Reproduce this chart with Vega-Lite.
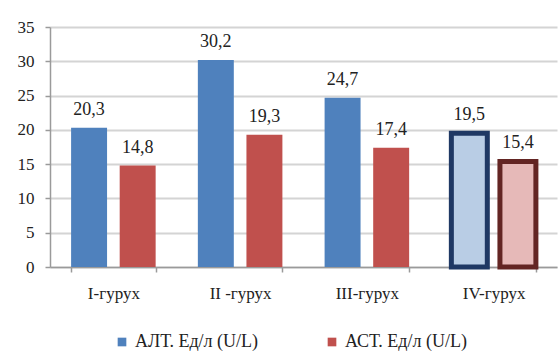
{
  "$schema": "https://vega.github.io/schema/vega-lite/v6.json",
  "autosize": "none",
  "width": 507,
  "height": 240,
  "padding": {"left": 50, "top": 27, "right": 2, "bottom": 86},
  "background": "white",
  "data": {
    "values": [
      {"group": "I-гурух", "series": "АЛТ. Ед/л (U/L)", "value": 20.3},
      {"group": "I-гурух", "series": "АСТ. Ед/л (U/L)", "value": 14.8},
      {"group": "II -гурух", "series": "АЛТ. Ед/л (U/L)", "value": 30.2},
      {"group": "II -гурух", "series": "АСТ. Ед/л (U/L)", "value": 19.3},
      {"group": "III-гурух", "series": "АЛТ. Ед/л (U/L)", "value": 24.7},
      {"group": "III-гурух", "series": "АСТ. Ед/л (U/L)", "value": 17.4},
      {"group": "IV-гурух", "series": "АЛТ. Ед/л (U/L)", "value": 19.5},
      {"group": "IV-гурух", "series": "АСТ. Ед/л (U/L)", "value": 15.4}
    ]
  },
  "encoding": {
    "x": {
      "field": "group",
      "type": "nominal",
      "sort": null,
      "scale": {"paddingInner": 0.333, "paddingOuter": 0.1665},
      "axis": {
        "title": null,
        "labelAngle": 0,
        "tickBand": "extent",
        "tickSize": 5,
        "tickColor": "#9a9a9a",
        "domainColor": "#9a9a9a",
        "labelPadding": 13,
        "labelFont": "Liberation Serif, DejaVu Serif, serif",
        "labelFontSize": 17,
        "labelColor": "#222222",
        "grid": false
      }
    },
    "xOffset": {
      "field": "series",
      "type": "nominal",
      "scale": {"paddingInner": 0.26, "paddingOuter": 0}
    },
    "y": {
      "field": "value",
      "type": "quantitative",
      "scale": {"domain": [0, 35], "nice": false},
      "axis": {
        "title": null,
        "values": [0, 5, 10, 15, 20, 25, 30, 35],
        "tickSize": 5,
        "tickColor": "#9a9a9a",
        "domainColor": "#9a9a9a",
        "gridColor": "#d4d4d4",
        "gridWidth": 2,
        "labelPadding": 11,
        "labelFont": "Liberation Serif, DejaVu Serif, serif",
        "labelFontSize": 17,
        "labelColor": "#222222"
      }
    }
  },
  "layer": [
    {
      "mark": {"type": "bar"},
      "encoding": {
        "color": {
          "field": "series",
          "type": "nominal",
          "scale": {"range": ["#4f81bd", "#c0504d"]},
          "legend": {
            "title": null,
            "orient": "none",
            "direction": "horizontal",
            "legendX": 63,
            "legendY": 306,
            "symbolType": "square",
            "symbolSize": 75,
            "symbolStrokeWidth": 0,
            "labelFont": "Liberation Serif, DejaVu Serif, serif",
            "labelFontSize": 18,
            "labelColor": "#222222",
            "labelOffset": 4,
            "columnPadding": 64,
            "labelLimit": 300
          }
        }
      }
    },
    {
      "transform": [{"filter": "datum.group === 'IV-гурух'"}],
      "mark": {"type": "bar", "strokeWidth": 5},
      "encoding": {
        "fill": {
          "field": "series",
          "type": "nominal",
          "scale": {"range": ["#b9cde5", "#e6b9b8"]},
          "legend": null
        },
        "stroke": {
          "field": "series",
          "type": "nominal",
          "scale": {"range": ["#1f3864", "#632523"]},
          "legend": null
        }
      }
    },
    {
      "mark": {
        "type": "text",
        "baseline": "bottom",
        "dy": -9,
        "font": "Liberation Serif, DejaVu Serif, serif",
        "fontSize": 18,
        "color": "#222222"
      },
      "encoding": {
        "text": {"field": "value", "type": "quantitative", "format": ".1f"}
      }
    }
  ],
  "config": {
    "locale": {
      "number": {
        "decimal": ",",
        "thousands": " ",
        "grouping": [3],
        "currency": ["", ""]
      }
    },
    "view": {"stroke": null},
    "axis": {"domainWidth": 1.5, "tickWidth": 1.5}
  }
}
